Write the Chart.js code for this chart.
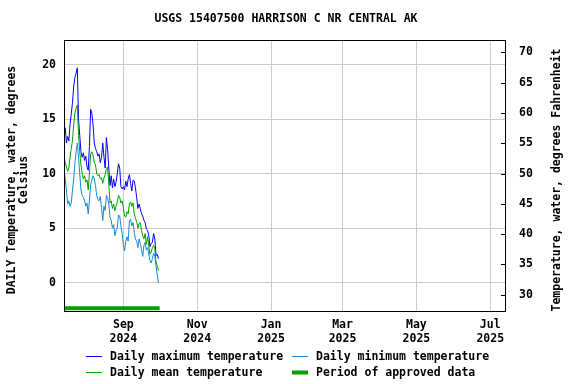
<!DOCTYPE html>
<html>
<head>
<meta charset="utf-8">
<script src="https://cdn.jsdelivr.net/npm/chart.js@4"></script>
<style>
  html, body { margin: 0; padding: 0; background: #fff; }
  #wrap { width: 576px; height: 384px; }
</style>
</head>
<body>
<div id="wrap"><canvas id="chart" width="576" height="384"></canvas></div>
<script>
// ================= DATA =================
const title = "USGS 15407500 HARRISON C NR CENTRAL AK";
const startDate = "2024-07-14";   // first daily value
const maxTemp = [13.3,14.2,12.8,13.4,13.0,14.5,15.5,16.5,18.0,18.8,19.2,19.7,15.0,13.5,12.0,11.5,11.9,11.2,11.6,10.6,
  10.3,12.5,15.9,15.5,14.5,12.8,12.3,12.0,11.6,11.8,11.0,11.5,12.8,11.5,10.5,13.3,12.2,10.5,8.9,9.8,
  8.7,9.5,8.8,9.2,10.0,10.9,10.5,8.8,8.6,8.8,8.5,9.3,8.8,9.5,9.9,9.1,8.4,9.4,9.3,8.7,
  7.8,6.8,7.2,6.8,6.3,6.1,5.7,5.5,4.9,4.8,4.3,3.3,3.6,3.7,4.5,4.0,2.5,2.6,2.2];
const meanTemp = [11.7,11.0,10.6,10.2,10.5,11.5,12.3,13.0,14.5,15.5,16.0,16.3,13.5,12.0,10.8,10.0,9.5,9.8,9.2,9.4,
  8.5,10.0,11.8,12.0,11.7,11.0,10.8,10.0,9.8,9.9,9.5,9.6,9.1,9.6,9.9,10.4,10.6,9.0,7.3,7.5,
  6.8,7.2,6.6,7.0,7.4,8.0,7.8,7.3,7.5,6.9,6.1,6.0,6.5,6.3,7.2,7.4,7.0,7.3,6.3,5.9,
  5.6,5.0,5.4,5.5,4.8,4.3,4.0,4.5,3.5,4.2,3.3,2.6,2.8,3.2,3.4,3.1,1.9,1.5,1.1];
const minTemp = [10.5,9.5,8.5,7.2,7.5,7.0,7.3,8.5,9.5,11.0,12.0,12.8,11.5,10.0,8.5,8.0,7.8,7.5,7.0,7.3,
  6.3,7.5,9.0,9.4,9.8,9.5,8.9,8.0,7.6,7.5,7.9,6.8,5.7,7.0,6.6,8.0,7.8,7.2,6.0,5.7,
  5.0,5.3,4.3,4.8,5.0,6.2,6.1,5.2,4.5,3.5,2.9,3.8,4.2,3.8,5.7,5.8,5.2,5.5,4.6,4.0,
  3.8,3.2,4.0,3.6,3.0,2.4,3.4,3.7,3.0,3.2,2.6,2.0,1.8,2.2,2.7,2.4,1.5,0.7,0.0];
const approvedPeriod = ["2024-07-14", "2024-10-01"];
const approvedLevel = -2.35;

const xRange = ["2024-07-14", "2025-07-14"];
const monthTicks = ["2024-09-01","2024-11-01","2025-01-01","2025-03-01","2025-05-01","2025-07-01"];
const monthLabels = [["Sep","2024"],["Nov","2024"],["Jan","2025"],["Mar","2025"],["May","2025"],["Jul","2025"]];
const celsiusTicks = [0,5,10,15,20];
const fahrenheitTicks = [30,35,40,45,50,55,60,65,70];
const yRangeC = [-2.7, 22.25];

// ================= HELPERS =================
const DAY = 86400000;
const t = s => Date.parse(s + "T00:00:00Z");
const toF = c => c * 1.8 + 32;
const dayPts = arr => arr.map((v, i) => ({x: t(startDate) + i * DAY, y: v}));

const FONT = "bold 11.5px 'DejaVu Sans Mono', monospace";
const COL_MAX = "#0000ff", COL_MIN = "#1589d6", COL_MEAN = "#00a000", COL_APP = "#00a000";

// ================= DECORATION =================
const decor = {
  id: "decor",
  afterDraw(c){
    const ctx = c.ctx, a = c.chartArea;
    ctx.save();
    // frame
    ctx.strokeStyle = "#000"; ctx.lineWidth = 1;
    ctx.strokeRect(a.left + 0.5, a.top + 0.5, a.right - a.left - 1, a.bottom - a.top - 1);
    // inward ticks on Fahrenheit axis
    const yr = c.scales.yF;
    fahrenheitTicks.forEach(f => {
      const y = Math.round(yr.getPixelForValue(f)) + 0.5;
      ctx.beginPath(); ctx.moveTo(a.right - 5, y); ctx.lineTo(a.right, y); ctx.stroke();
    });
    ctx.fillStyle = "#000"; ctx.font = FONT;
    // title
    ctx.textAlign = "center"; ctx.textBaseline = "middle";
    ctx.fillText(title, 286, 19);
    // axis titles
    const cy = (a.top + a.bottom) / 2 + 4;
    ctx.save(); ctx.translate(12, cy); ctx.rotate(-Math.PI / 2);
    ctx.fillText("DAILY Temperature, water, degrees", 0, 0);
    ctx.fillText("Celsius", 0, 12.5);
    ctx.restore();
    ctx.save(); ctx.translate(557, cy); ctx.rotate(-Math.PI / 2);
    ctx.fillText("Temperature, water, degrees Fahrenheit", 0, 0);
    ctx.restore();
    // legend
    const items = [
      {x: 86, y: 356, c: COL_MAX, w: 1, txt: "Daily maximum temperature"},
      {x: 292, y: 356, c: COL_MIN, w: 1, txt: "Daily minimum temperature"},
      {x: 86, y: 372, c: COL_MEAN, w: 1, txt: "Daily mean temperature"},
      {x: 292, y: 372, c: COL_APP, w: 4, txt: "Period of approved data"}
    ];
    ctx.textAlign = "left";
    items.forEach(it => {
      ctx.strokeStyle = it.c; ctx.lineWidth = it.w;
      ctx.beginPath(); ctx.moveTo(it.x, it.y + 0.5); ctx.lineTo(it.x + 16, it.y + 0.5); ctx.stroke();
      ctx.fillText(it.txt, it.x + 24, it.y + 1);
    });
    ctx.restore();
  }
};

// ================= CHART =================
const line = (label, data, color) => ({
  label, data, borderColor: color, borderWidth: 1, pointRadius: 0, tension: 0, yAxisID: "y"
});

new Chart(document.getElementById("chart").getContext("2d"), {
  type: "line",
  data: {
    datasets: [
      line("Daily minimum temperature", dayPts(minTemp), COL_MIN),
      line("Daily mean temperature", dayPts(meanTemp), COL_MEAN),
      line("Daily maximum temperature", dayPts(maxTemp), COL_MAX),
      {label: "Period of approved data", data: approvedPeriod.map(d => ({x: t(d), y: approvedLevel})),
       borderColor: COL_APP, borderWidth: 4, pointRadius: 0, yAxisID: "y", borderCapStyle: "butt"}
    ]
  },
  options: {
    responsive: false,
    animation: false,
    layout: {padding: {top: 40, left: 0, right: 0, bottom: 0}},
    plugins: {legend: {display: false}, tooltip: {enabled: false}, title: {display: false}},
    scales: {
      x: {
        type: "linear", min: t(xRange[0]), max: t(xRange[1]),
        afterBuildTicks: s => { s.ticks = monthTicks.map(d => ({value: t(d)})); },
        afterFit: s => { s.height = 72; },
        ticks: {
          autoSkip: false, maxRotation: 0, padding: 6, color: "#000",
          font: {family: "'DejaVu Sans Mono', monospace", size: 11.5, weight: "bold"},
          callback: (v, i) => monthLabels[i]
        },
        grid: {color: "#cccccc", drawTicks: false},
        border: {display: false}
      },
      y: {
        position: "left", min: yRangeC[0], max: yRangeC[1],
        afterBuildTicks: s => { s.ticks = celsiusTicks.map(v => ({value: v})); },
        afterFit: s => { s.width = 64; },
        ticks: {padding: 8, color: "#000",
          font: {family: "'DejaVu Sans Mono', monospace", size: 11.5, weight: "bold"}},
        grid: {color: "#cccccc", drawTicks: false},
        border: {display: false}
      },
      yF: {
        position: "right", min: toF(yRangeC[0]), max: toF(yRangeC[1]),
        afterBuildTicks: s => { s.ticks = fahrenheitTicks.map(v => ({value: v})); },
        afterFit: s => { s.width = 70; },
        ticks: {padding: 13, color: "#000",
          font: {family: "'DejaVu Sans Mono', monospace", size: 11.5, weight: "bold"}},
        grid: {drawOnChartArea: false, drawTicks: false},
        border: {display: false}
      }
    }
  },
  plugins: [decor]
});
</script>
</body>
</html>
